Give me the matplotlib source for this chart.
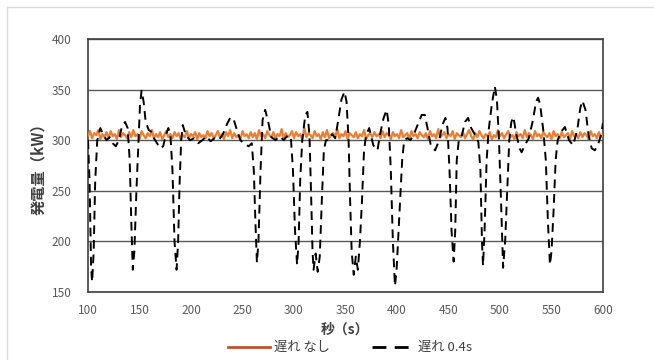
import numpy as np
import matplotlib
matplotlib.use('Agg')
import matplotlib.pyplot as plt
import matplotlib.lines as mlines
from matplotlib.patches import Rectangle

plt.rcParams['font.family'] = ['Noto Sans CJK JP', 'DejaVu Sans']

# 遅れ 0.4s : (time, power) knots
delay_t = [100, 101.5, 103, 104, 105.5, 107, 109, 112, 115, 118, 121, 124, 127, 130, 133, 136, 138.5, 140.5, 142, 143.5,
           145, 147, 149, 150.5, 152, 154, 156, 159, 162, 164, 167, 170, 173, 175.5, 178, 180, 182, 184, 186, 187.5,
           189, 190.5, 192, 195, 199, 203, 207, 211, 215, 219, 223, 227, 231, 235, 238, 241, 244, 248, 252, 256,
           259, 261, 262.5, 264, 265.5, 267.5, 269.5, 272, 275, 278, 282, 286, 290, 294, 297, 299, 301, 303, 304.5, 306,
           308, 311, 313, 315, 316.5, 318, 319, 321, 323, 325, 327, 329, 331, 334, 337, 340, 343, 346, 349, 351,
           353, 354.5, 356, 358, 360, 362, 364, 366, 368, 370, 373, 377, 381, 384, 387, 390, 392, 394, 396, 398,
           399.5, 401, 403, 405, 407, 410, 413, 416, 420, 424, 427, 430, 433, 437, 441, 444, 447, 449, 451, 453,
           455, 456.5, 458, 460, 463, 466, 469, 472, 476, 479, 481, 482.5, 483.5, 485, 487, 489, 492, 495, 497, 499,
           501, 503, 505, 507, 509, 511, 513, 516, 519, 521, 524, 528, 532, 535, 537, 539, 542, 544.5, 546.5, 548.5,
           550, 552, 554, 556, 559, 563, 567, 571, 575, 578, 580, 583, 586, 589, 592, 595, 598, 600]
delay_p = [300, 260, 175, 160, 190, 260, 300, 312, 305, 300, 303, 297, 294, 300, 314, 318, 312, 280, 220, 172,
           190, 250, 300, 335, 349, 338, 318, 310, 308, 302, 297, 292, 294, 305, 312, 305, 270, 200, 172, 200,
           260, 300, 315, 305, 300, 302, 297, 300, 304, 299, 302, 300, 306, 316, 322, 322, 312, 300, 296, 294,
           297, 270, 220, 179, 200, 270, 320, 330, 318, 303, 300, 304, 300, 305, 302, 270, 210, 177, 200, 260,
           300, 325, 328, 305, 250, 190, 172, 188, 170, 185, 240, 290, 300, 300, 306, 302, 320, 340, 348, 338,
           300, 240, 190, 167, 185, 172, 200, 240, 290, 305, 312, 295, 290, 308, 322, 330, 315, 270, 200, 156,
           170, 200, 240, 280, 300, 302, 300, 305, 315, 325, 325, 310, 294, 290, 300, 315, 322, 312, 270, 210,
           180, 210, 280, 300, 305, 318, 322, 312, 305, 298, 270, 200, 176, 210, 280, 310, 335, 353, 340, 300,
           240, 174, 200, 250, 300, 318, 323, 305, 292, 288, 295, 302, 320, 338, 342, 335, 310, 280, 220, 177,
           190, 230, 280, 300, 308, 313, 300, 295, 310, 332, 339, 330, 305, 292, 290, 295, 305, 317]

# 遅れ なし : sampled every 2 s from 100 s to 600 s
nodelay_t = np.arange(100, 601, 2)
nodelay_p = [304, 309, 302, 307, 305, 310, 301, 306, 303, 308, 302, 309, 304, 306, 301, 310, 303, 307, 305, 302,
             308, 303, 310, 304, 306, 301, 309, 305, 302, 307, 304, 310, 302, 306, 303, 308, 301, 305, 309, 303,
             306, 302, 308, 304, 307, 301, 305, 303, 309, 302, 306, 304, 308, 301, 307, 303, 305, 302, 309, 304,
             307, 302, 305, 309, 303, 306, 301, 308, 304, 310, 302, 307, 303, 305, 301, 309, 304, 306, 302, 308,
             303, 307, 301, 310, 304, 306, 302, 309, 305, 303, 308, 301, 306, 304, 311, 302, 307, 303, 305, 309,
             302, 308, 304, 306, 301, 312, 303, 307, 305, 302, 309, 304, 306, 301, 308, 303, 310, 302, 305, 307,
             303, 311, 302, 306, 304, 309, 301, 307, 305, 303, 308, 302, 306, 304, 310, 301, 305, 307, 303, 308,
             304, 306, 302, 309, 303, 307, 305, 301, 308, 304, 306, 302, 310, 303, 305, 307, 301, 309, 304, 306,
             302, 308, 305, 303, 307, 301, 309, 304, 306, 302, 311, 303, 305, 308, 302, 306, 304, 309, 301, 307,
             305, 303, 308, 302, 306, 310, 304, 301, 307, 303, 309, 305, 302, 306, 304, 308, 301, 305, 303, 310,
             304, 307, 302, 306, 309, 303, 305, 301, 308, 304, 306, 302, 310, 303, 307, 305, 301, 309, 304, 306,
             302, 308, 305, 303, 307, 301, 309, 304, 306, 302, 308, 303, 305, 307, 301, 309, 304, 306, 302, 308,
             303, 307, 305, 301, 309, 304, 306, 302, 308, 303, 305]

fig = plt.figure(figsize=(6.54, 3.60), dpi=100)
ax = fig.add_axes([88/654, 1-292/360, 515/654, 253/360])

ax.plot(nodelay_t, nodelay_p, color='#ED7D31', lw=1.6, zorder=3)
ax.plot(delay_t, delay_p, color='black', lw=1.4, dashes=(4.5, 3), zorder=4)

ax.set_xlim(100, 600)
ax.set_ylim(150, 400)
ax.set_xticks(np.arange(100, 601, 50))
ax.set_yticks(np.arange(150, 401, 50))
ax.tick_params(length=0, labelsize=8.5, labelcolor='#595959')
ax.tick_params(axis='y', pad=12)
ax.tick_params(axis='x', pad=9)
ax.grid(axis='y', color='#595959', lw=1)
ax.set_axisbelow(True)
for s in ax.spines.values():
    s.set_color('#404040')
    s.set_linewidth(1.2)

ax.set_xlabel('秒（s）', fontsize=10, fontweight='bold', color='#404040', labelpad=4)
ax.set_ylabel('発電量（kW）', fontsize=11, fontweight='bold', color='#404040', labelpad=4)

h1 = mlines.Line2D([], [], color='#C0502A', lw=2, label='遅れ なし')
h2 = mlines.Line2D([], [], color='black', lw=2, dashes=(5, 3), label='遅れ 0.4s')
fig.legend(handles=[h1, h2], loc='center', bbox_to_anchor=(0.535, 0.034), ncol=2, frameon=False,
           fontsize=9.5, handlelength=3.2, handletextpad=0.3, columnspacing=3.2, labelcolor='#404040')

# outer chart frame
fig.add_artist(Rectangle((7/654, -0.2), 1.2, 1.2 + (1 - 7/360) - 1.0, transform=fig.transFigure,
                         fill=False, edgecolor='#d9d9d9', lw=1, clip_on=False))

fig.savefig('out.png', dpi=100)
